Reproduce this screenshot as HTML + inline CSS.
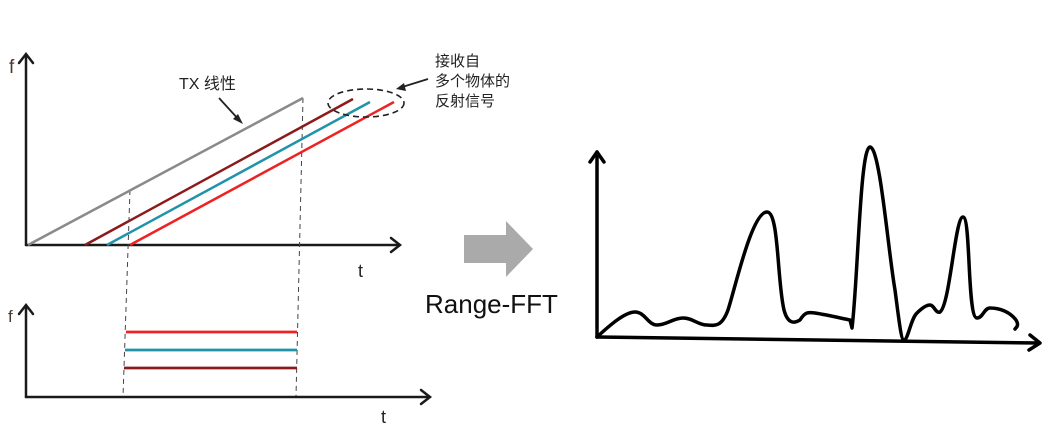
<!DOCTYPE html>
<html><head><meta charset="utf-8"><style>
html,body{margin:0;padding:0;background:#fff;width:1053px;height:437px;overflow:hidden}
svg{display:block}
</style></head><body>
<svg width="1053" height="437" viewBox="0 0 1053 437" xmlns="http://www.w3.org/2000/svg">
<g font-family="Liberation Sans, Noto Sans CJK SC, sans-serif">
<g stroke="#1a1a1a" stroke-width="2.5" fill="none" stroke-linecap="round">
<line x1="26" y1="245" x2="26" y2="55"/>
<polyline points="19,63 26,54 33,63"/>
<line x1="26" y1="245" x2="399" y2="245"/>
<polyline points="391,238 400,245 391,252"/>
</g>
<g stroke="#444" stroke-width="1" stroke-dasharray="5,4" fill="none">
<line x1="130" y1="190" x2="123" y2="397"/>
<line x1="303" y1="98" x2="296" y2="397"/>
</g>
<line x1="28" y1="245" x2="303" y2="98" stroke="#8a8a8a" stroke-width="2.5"/>
<line x1="85" y1="245" x2="353" y2="99" stroke="#8b1a1a" stroke-width="2.5"/>
<line x1="107" y1="245" x2="370" y2="102" stroke="#1f93a8" stroke-width="2.5"/>
<line x1="130" y1="245" x2="394" y2="102" stroke="#ee2222" stroke-width="2.5"/>
<ellipse cx="366" cy="103" rx="38" ry="14" fill="none" stroke="#222" stroke-width="1.6" stroke-dasharray="6,4"/>
<g stroke="#222" stroke-width="1.8" fill="none">
<line x1="219" y1="98" x2="240" y2="121"/>
<line x1="428" y1="79" x2="399" y2="88"/>
</g>
<polygon points="243,124 233,119 238,114" fill="#222"/>
<polygon points="396,89 404,83 406,91" fill="#222"/>
<text x="9" y="73" font-size="19" fill="#4a3a30">f</text>
<text x="179" y="89" font-size="16" fill="#222">TX 线性</text>
<text x="435" y="66" font-size="15" fill="#222">接收自</text>
<text x="435" y="86" font-size="15" fill="#222">多个物体的</text>
<text x="435" y="106" font-size="15" fill="#222">反射信号</text>
<text x="358" y="277" font-size="18" fill="#222">t</text>
<g stroke="#1a1a1a" stroke-width="2.5" fill="none" stroke-linecap="round">
<line x1="26" y1="397" x2="26" y2="306"/>
<polyline points="19,314 26,305 33,314"/>
<line x1="26" y1="397" x2="429" y2="397"/>
<polyline points="421,390 430,397 421,404"/>
</g>
<line x1="126" y1="332" x2="297" y2="332" stroke="#ee2222" stroke-width="2.8"/>
<line x1="125" y1="350" x2="297" y2="350" stroke="#1f93a8" stroke-width="2.8"/>
<line x1="124" y1="368" x2="297" y2="368" stroke="#8b1a1a" stroke-width="2.8"/>
<text x="8" y="322" font-size="17" fill="#4a3a30">f</text>
<text x="381" y="423" font-size="18" fill="#222">t</text>
<polygon points="464,235 506,235 506,221 533,249 506,277 506,263 464,263" fill="#aaaaaa"/>
<text x="425" y="313" font-size="26" fill="#111">Range-FFT</text>
<g stroke="#000" stroke-width="3.5" fill="none" stroke-linecap="round" stroke-linejoin="round">
<line x1="597" y1="337" x2="597" y2="152"/>
<polyline points="590,162 597,152 604,162"/>
<line x1="597" y1="337" x2="1039" y2="343"/>
<polyline points="1030,335 1040,343 1029,350"/>
<path d="M597,337 C610,325 625,312 635,312 C645,312 648,325 657,325 C667,325 673,318 683,318 C693,318 698,325 707,325 C716,326 722,326 728,310 C736,285 752,212 767,212 C779,212 777,280 784,310 C788,325 795,323 800,320 C805,312 808,312 815,313 C828,315 840,318 850,320 L852,328 C858,280 860,147 870,147 C880,147 888,250 895,290 C899,320 901,340 904,340 C908,340 911,318 917,313 C922,308 926,305 930,305 C934,305 936,314 940,312 C950,305 955,217 963,217 C971,217 967,318 977,318 C983,318 984,308 990,308 C1000,308 1010,312 1016,320 C1019,325 1017,327 1015,329"/>
</g>
</g>
</svg>
</body></html>
